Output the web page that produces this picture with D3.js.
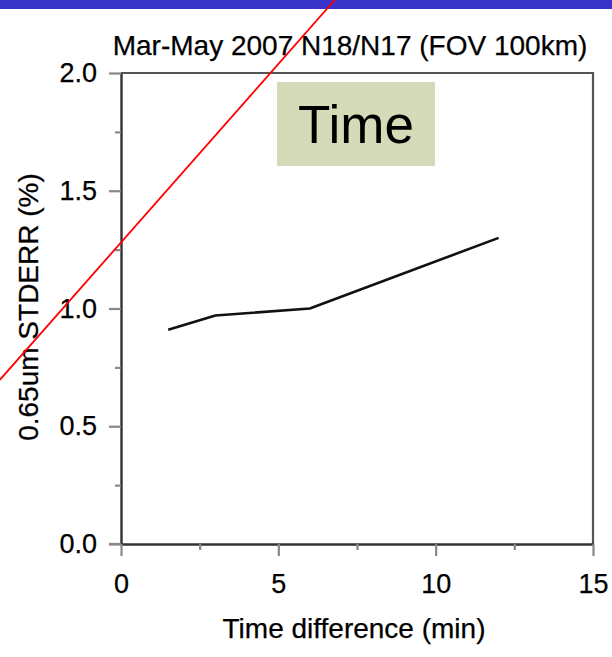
<!DOCTYPE html>
<html>
<head>
<meta charset="utf-8">
<script src="https://cdn.jsdelivr.net/npm/d3@7"></script>
<style>
    body { margin: 0; background: #ffffff; }
    text { font-family: "Liberation Sans", Arial, Helvetica, sans-serif; fill: #000; stroke: #000; stroke-width: 0.25px; }
</style>
</head>
<body>
<script>
//chart values
var timeDiff = [1.5, 3, 6, 12];          //minutes
var stdErr = [0.91, 0.97, 1.0, 1.3];     //percent
var xTicks = [0, 5, 10, 15];
var yTicks = [0.0, 0.5, 1.0, 1.5, 2.0];
var xMinor = [2.5, 7.5, 12.5];
var yMinor = [0.25, 0.75, 1.25, 1.75];
//slide annotation (red stroke) ends, in data units
var redLineX = [-3.85, 6.8];
var redLineY = [0.697, 2.311];

window.onload = function() {

    var w = 612, h = 657;

    //plot box in pixels
    var left = 121, right = 593, top = 73, bottom = 544;

    var svg = d3.select("body")
        .append("svg")
        .attr("width", w)
        .attr("height", h);

    //scales
    var x = d3.scaleLinear().domain([0, 15]).range([left, right]);
    var y = d3.scaleLinear().domain([0, 2]).range([bottom, top]);

    //blue slide header bar
    svg.append("rect")
        .attr("x", 0).attr("y", 0)
        .attr("width", w).attr("height", 9)
        .style("fill", "#3a33c9");

    //frame: top and right sides
    svg.append("path")
        .attr("d", "M" + left + "," + top + "H" + right + "V" + bottom)
        .style("fill", "none")
        .style("stroke", "#555")
        .style("stroke-width", 2.2);

    //y axis with major ticks
    var yAxis = svg.append("g")
        .attr("transform", "translate(" + left + ",0)")
        .call(d3.axisLeft(y).tickValues(yTicks).tickSize(12).tickSizeOuter(0).tickFormat(d3.format(".1f")));

    //minor y ticks
    svg.append("g")
        .attr("transform", "translate(" + left + ",0)")
        .call(d3.axisLeft(y).tickValues(yMinor).tickSize(6).tickSizeOuter(0).tickFormat(""))
        .select(".domain").remove();

    //x axis with major ticks
    var xAxis = svg.append("g")
        .attr("transform", "translate(0," + bottom + ")")
        .call(d3.axisBottom(x).tickValues(xTicks).tickSize(12).tickSizeOuter(0).tickPadding(18));

    //minor x ticks
    svg.append("g")
        .attr("transform", "translate(0," + bottom + ")")
        .call(d3.axisBottom(x).tickValues(xMinor).tickSize(6).tickSizeOuter(0).tickFormat(""))
        .select(".domain").remove();

    //axis styling
    svg.selectAll(".tick line")
        .style("stroke", "#888")
        .style("stroke-width", 2.2);
    svg.selectAll(".domain")
        .style("stroke", "#333")
        .style("stroke-width", 2.4);
    yAxis.selectAll(".tick text")
        .attr("x", -24)
        .style("font-size", "27px");
    xAxis.selectAll(".tick text")
        .style("font-size", "27px");

    //axis extension left of origin
    svg.append("line")
        .attr("x1", left - 12).attr("x2", left)
        .attr("y1", bottom).attr("y2", bottom)
        .style("stroke", "#888").style("stroke-width", 2.2);

    //data line
    var pts = timeDiff.map(function(d, i) { return [d, stdErr[i]]; });
    svg.append("path")
        .datum(pts)
        .attr("d", d3.line()
            .x(function(d) { return x(d[0]); })
            .y(function(d) { return y(d[1]); }))
        .style("fill", "none")
        .style("stroke", "#111")
        .style("stroke-width", 2.6)
        .style("stroke-linejoin", "round");

    //title
    svg.append("text")
        .attr("x", 350).attr("y", 55)
        .attr("text-anchor", "middle")
        .style("font-size", "28px")
        .text("Mar-May 2007 N18/N17 (FOV 100km)");

    //axis titles
    svg.append("text")
        .attr("x", 354).attr("y", 638)
        .attr("text-anchor", "middle")
        .style("font-size", "28px")
        .text("Time difference (min)");

    svg.append("text")
        .attr("transform", "translate(38,307) rotate(-90)")
        .attr("text-anchor", "middle")
        .style("font-size", "28px")
        .text("0.65um STDERR (%)");

    //"Time" label box
    svg.append("rect")
        .attr("x", 277).attr("y", 82)
        .attr("width", 158).attr("height", 84)
        .style("fill", "#d5dbb8");
    svg.append("text")
        .attr("x", 356).attr("y", 143)
        .attr("text-anchor", "middle")
        .style("font-size", "53px")
        .style("stroke-width", 0)
        .text("Time");

    //red annotation stroke across the slide
    svg.append("line")
        .attr("x1", x(redLineX[0])).attr("y1", y(redLineY[0]))
        .attr("x2", x(redLineX[1])).attr("y2", y(redLineY[1]))
        .style("stroke", "#ff0000")
        .style("stroke-width", 1.8);
};
</script>
</body>
</html>
